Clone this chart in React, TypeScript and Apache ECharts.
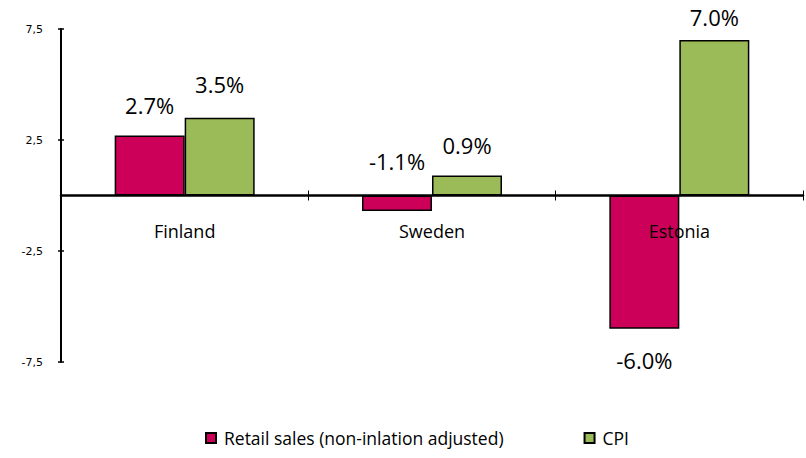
import React, { useEffect, useRef } from "react";
import * as echarts from "echarts";

const categories = ["Finland", "Sweden", "Estonia"];
const retailValues = [2.7, -0.7, -6.0];
const cpiValues = [3.5, 0.9, 7.0];
const retailLabels = ["2.7%", "-1.1%", "-6.0%"];
const cpiLabels = ["3.5%", "0.9%", "7.0%"];
const retailLabelPos = ["top", "top", "bottom"];
const seriesNames = ["Retail sales (non-inlation adjusted)", "CPI"];

const FONT = "'Open Sans', 'Noto Sans', sans-serif";

export default function App() {
  const ref = useRef<HTMLDivElement>(null);
  useEffect(() => {
    if (!ref.current) return;
    const chart = echarts.init(ref.current, null, { renderer: "svg" });
    const yBase = {
      type: "value",
      min: -7.5,
      max: 7.5,
      interval: 5,
      splitLine: { show: false },
    };
    chart.setOption({
      animation: false,
      backgroundColor: "#fff",
      textStyle: { fontFamily: FONT },
      grid: { left: 61, right: 3, top: 29, bottom: 96, containLabel: false },
      legend: {
        top: 429,
        left: 205,
        padding: 0,
        itemWidth: 10,
        itemHeight: 10,
        itemGap: 80,
        icon: "rect",
        textStyle: { fontSize: 17.5, color: "#000", fontFamily: FONT, padding: [0, 0, 0, 3] },
        data: seriesNames,
      },
      xAxis: [
        {
          type: "category",
          data: categories,
          z: 10,
          offset: -166.5,
          axisLine: { onZero: false, lineStyle: { color: "#000", width: 2.5 } },
          axisTick: { show: true, length: 5, lineStyle: { color: "#000", width: 1 } },
          axisLabel: { fontSize: 18, color: "#000", margin: 26, fontFamily: FONT },
        },
        {
          type: "category",
          data: categories,
          position: "bottom",
          z: 10,
          offset: -166.5,
          axisLine: { show: false, onZero: false },
          axisTick: { show: true, inside: true, length: 5, lineStyle: { color: "#000", width: 1 } },
          axisLabel: { show: false },
        },
      ],
      yAxis: [
        {
          ...yBase,
          axisLine: { show: true, onZero: false, lineStyle: { color: "#000", width: 2 } },
          axisTick: { show: true, length: 3, lineStyle: { color: "#000", width: 1.5 } },
          axisLabel: {
            fontSize: 11,
            color: "#000",
            margin: 18,
            fontFamily: "'DejaVu Sans', sans-serif",
            formatter: (v: number) => String(v).replace(".", ","),
          },
        },
        {
          ...yBase,
          position: "left",
          axisLine: { show: false, onZero: false },
          axisTick: { show: true, inside: true, length: 3, lineStyle: { color: "#000", width: 1.5 } },
          axisLabel: { show: false },
        },
      ],
      series: [
        {
          name: seriesNames[0],
          type: "bar",
          xAxisIndex: 0,
          yAxisIndex: 0,
          barWidth: 70,
          barGap: "0%",
          itemStyle: { color: "#CC0058", borderColor: "#000", borderWidth: 1.5 },
          data: retailValues.map((v, i) => ({
            value: v,
            label: { position: retailLabelPos[i], distance: i === 1 ? 24 : 20 },
          })),
          label: {
            show: true,
            distance: 20,
            fontSize: 22,
            color: "#000",
            fontFamily: FONT,
            formatter: (p: any) => retailLabels[p.dataIndex],
          },
        },
        {
          name: seriesNames[1],
          type: "bar",
          xAxisIndex: 0,
          yAxisIndex: 0,
          barWidth: 70,
          barGap: "0%",
          itemStyle: { color: "#9BBB59", borderColor: "#000", borderWidth: 1.5 },
          data: cpiValues.map((v, i) => ({
            value: v,
            label: { distance: i === 2 ? 12 : i === 0 ? 23 : 20 },
          })),
          label: {
            show: true,
            position: "top",
            distance: 20,
            fontSize: 22,
            color: "#000",
            fontFamily: FONT,
            formatter: (p: any) => cpiLabels[p.dataIndex],
          },
        },
      ],
    });
    return () => chart.dispose();
  }, []);
  return (
    <div
      ref={ref}
      style={{ position: "fixed", left: 0, top: 0, width: 806, height: 458 }}
    />
  );
}
